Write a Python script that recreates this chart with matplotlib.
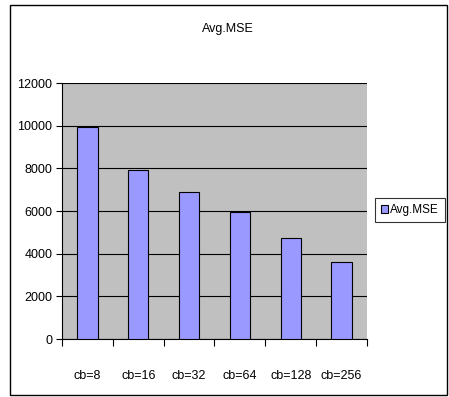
import matplotlib
matplotlib.use("Agg")
import matplotlib.pyplot as plt
from matplotlib.patches import Rectangle

categories = ["cb=8", "cb=16", "cb=32", "cb=64", "cb=128", "cb=256"]
avg_mse = [9950, 7920, 6870, 5930, 4750, 3630]
y_ticks = [0, 2000, 4000, 6000, 8000, 10000, 12000]

plt.rcParams["font.family"] = ["Liberation Sans", "DejaVu Sans"]
FS = 9

W, H = 449, 397
fig = plt.figure(figsize=(W / 100, H / 100), dpi=100)
fig.patch.set_facecolor("white")

# outer chart frame
fig.patches.append(Rectangle((10 / W, 1 - 395 / H), 437 / W, 390 / H,
                             transform=fig.transFigure, fill=False,
                             edgecolor="black", linewidth=1.0))

ax = fig.add_axes([62 / W, 1 - 339 / H, 305 / W, 256 / H])
ax.set_facecolor("#C0C0C0")

x = range(len(categories))
ax.bar(x, avg_mse, width=0.4, color="#9999FF", edgecolor="black",
       linewidth=0.8, label="Avg.MSE", zorder=3)

ax.set_xlim(-0.5, len(categories) - 0.5)
ax.set_ylim(0, 12000)
ax.set_yticks(y_ticks)
ax.set_yticklabels([str(v) for v in y_ticks], fontsize=FS)
ax.yaxis.grid(True, color="black", linewidth=0.8, zorder=1)
ax.set_axisbelow(True)

# category labels between boundary ticks
ax.set_xticks([i - 0.5 for i in range(len(categories) + 1)])
ax.set_xticklabels([""] * (len(categories) + 1))
ax.set_xticks(list(x), minor=True)
ax.set_xticklabels(categories, minor=True, fontsize=FS)
ax.tick_params(axis="x", which="minor", length=0, pad=22)
ax.tick_params(axis="x", which="major", length=5, direction="out", width=0.8)
ax.tick_params(axis="y", length=4, direction="out", width=0.8, pad=3)

for s in ["top", "right"]:
    ax.spines[s].set_visible(False)
for s in ["left", "bottom"]:
    ax.spines[s].set_linewidth(0.8)

fig.text(228 / W, 1 - 29 / H, "Avg.MSE", ha="center", va="center", fontsize=FS)

leg = ax.legend(loc="center left", bbox_to_anchor=(375 / W, 1 - 210 / H),
                bbox_transform=fig.transFigure, frameon=True, fancybox=False,
                edgecolor="black", fontsize=8.5, handlelength=0.6,
                handleheight=0.6, handletextpad=0.2, borderpad=0.5,
                borderaxespad=0)
leg.get_frame().set_linewidth(0.8)

fig.savefig("out.png", dpi=100)
